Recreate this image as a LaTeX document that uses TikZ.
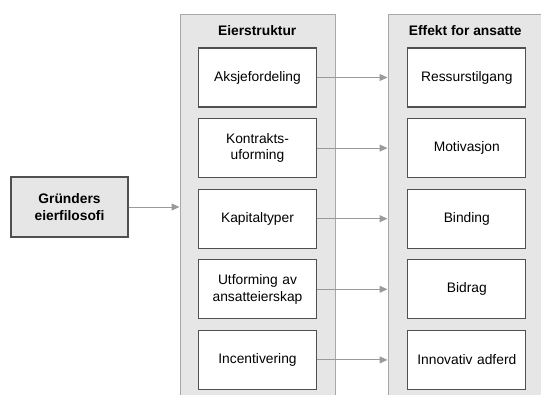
\documentclass[tikz,border=0pt]{standalone}
\usepackage{fontspec}
\setmainfont{Liberation Sans}
\usetikzlibrary{arrows.meta, positioning}
\definecolor{boxgray}{HTML}{E6E6E6}
\definecolor{framegray}{HTML}{A8A8A8}
\definecolor{edgegray}{HTML}{505050}
\definecolor{arrowgray}{HTML}{9A9A9A}
\tikzstyle{group} = [rectangle, minimum width=155.5bp, minimum height=420bp, draw=framegray, line width=1bp, fill=boxgray, anchor=north west]
\tikzstyle{titel} = [font=\fontsize{13.8bp}{16.5bp}\selectfont\bfseries, inner sep=0pt]
\tikzstyle{item} = [rectangle, minimum width=118bp, minimum height=59bp, text centered, text width=112bp, align=center, inner sep=0pt, draw=edgegray, line width=1.3bp, fill=white, font=\fontsize{13.8bp}{16.5bp}\selectfont]
\tikzstyle{source} = [rectangle, minimum width=117bp, minimum height=60bp, text centered, text width=112bp, align=center, inner sep=0pt, draw=edgegray, line width=1.3bp, fill=boxgray, font=\fontsize{13.8bp}{16.5bp}\selectfont\bfseries]
\tikzstyle{arrow} = [draw=arrowgray, line width=1bp, -{Triangle[length=8bp,width=7bp]}, arrowgray]
\begin{document}
\begin{tikzpicture}[x=1bp, y=1bp, node distance=10.3bp and 90bp]
        \useasboundingbox (0,0) rectangle (541,394);
        \clip (0,0) rectangle (541,394);

        % Groups (background)
        \node (eier) [group] at (179.5,380) {};
        \node (effekt) [group] at (387.5,380) {};
        \node (eiertitel) [titel, anchor=base] at (257.25,359) {Eierstruktur};
        \node (effekttitel) [titel, anchor=base] at (465.25,359) {Effekt for ansatte};

        % Eierstruktur (Left group)
        \node (aksje) [item] at (257.5,316.5) {Aksjefordeling};
        \node (kontrakt) [item, below=of aksje] {Kontrakts-\\uforming};
        \node (kapital) [item, below=of kontrakt] {Kapitaltyper};
        \node (utforming) [item, below=of kapital] {Utforming av\\ansatteierskap};
        \node (incentiv) [item, below=of utforming] {Incentivering};

        % Effekt for ansatte (Right group)
        \node (ressurs) [item, right=of aksje] {Ressurstilgang};
        \node (motiv) [item, right=of kontrakt] {Motivasjon};
        \node (binding) [item, right=of kapital] {Binding};
        \node (bidrag) [item, right=of utforming] {Bidrag};
        \node (innovativ) [item, right=of incentiv] {Innovativ adferd};

        % Source (Left)
        \node (grunder) [source] at (69.5,187) {Gründers\\eierfilosofi};

        % Arrows
        \draw [arrow] (grunder.east) -- (grunder.east -| eier.west);
        \draw [arrow] (aksje.east) -- (aksje.east -| effekt.west);
        \draw [arrow] (kontrakt.east) -- (kontrakt.east -| effekt.west);
        \draw [arrow] (kapital.east) -- (kapital.east -| effekt.west);
        \draw [arrow] (utforming.east) -- (utforming.east -| effekt.west);
        \draw [arrow] (incentiv.east) -- (incentiv.east -| effekt.west);

    \end{tikzpicture}
\end{document}
